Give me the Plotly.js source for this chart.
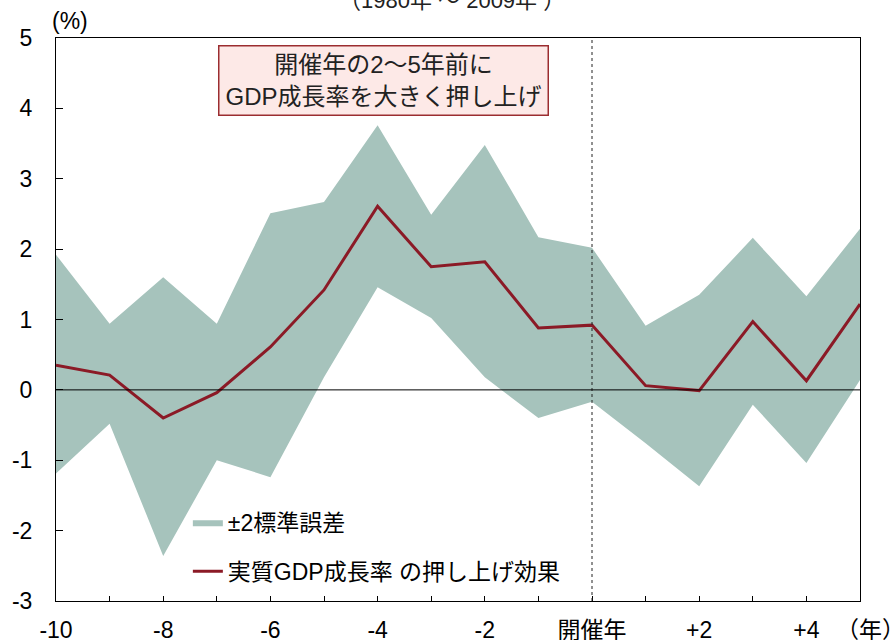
<!DOCTYPE html>
<html>
<head>
<meta charset="utf-8">
<script src="https://cdn.plot.ly/plotly-3.0.1.min.js"></script>
<style>html,body{margin:0;padding:0;background:#fff;}#chart{width:895px;height:640px;}</style>
</head>
<body>
<div id="chart"></div>
<script>
const years = [-10,-9,-8,-7,-6,-5,-4,-3,-2,-1,0,1,2,3,4,5];
const effect = [0.35,0.21,-0.40,-0.04,0.61,1.42,2.61,1.75,1.82,0.88,0.92,0.06,-0.01,0.97,0.13,1.22];
const upperBand = [1.92,0.94,1.60,0.94,2.51,2.67,3.76,2.49,3.48,2.17,2.02,0.91,1.35,2.16,1.33,2.29];
const lowerBand = [-1.19,-0.48,-2.36,-1.00,-1.24,0.18,1.46,1.02,0.18,-0.40,-0.17,-0.76,-1.37,-0.21,-1.04,0.14];
const tickLabels = ["-10","","-8","","-6","","-4","","-2","","開催年","","+2","","+4",""];
const yTicks = [-3,-2,-1,0,1,2,3,4,5];
const yTickLabels = ["-3","-2","-1","0","1","2","3","4","5"];

const FONT = '"Liberation Sans", Arial, "Noto Sans CJK JP", sans-serif';
const bandColor = '#a6c3bc';
const lineColor = '#8b1a26';

const traces = [
  {x: years, y: lowerBand, type: 'scatter', mode: 'lines', line: {width: 0, color: bandColor},
   showlegend: false, hoverinfo: 'skip', legendgroup: 'a'},
  {x: years, y: upperBand, type: 'scatter', mode: 'lines', fill: 'tonexty', fillcolor: bandColor,
   line: {width: 0, color: bandColor}, name: '±2標準誤差', legendgroup: 'a'},
  {x: years, y: effect, type: 'scatter', mode: 'lines', line: {width: 3, color: lineColor},
   name: '実質GDP成長率 の押し上げ効果', legendgroup: 'b'}
];

const layout = {
  width: 895, height: 640,
  margin: {l: 56, r: 35, t: 38, b: 39, pad: 0},
  paper_bgcolor: '#fff', plot_bgcolor: '#fff',
  font: {family: FONT, size: 23, color: '#000'},
  xaxis: {
    range: [-10, 5], tickmode: 'array', tickvals: years, ticktext: tickLabels,
    ticks: 'inside', ticklen: 5, tickcolor: '#000', tickwidth: 1,
    showline: true, linecolor: '#000', linewidth: 1, mirror: true,
    showgrid: false, zeroline: false, ticklabelstandoff: 8,
    tickfont: {family: FONT, size: 23, color: '#000'}
  },
  yaxis: {
    range: [-3, 5], tickmode: 'array', tickvals: yTicks, ticktext: yTickLabels,
    ticks: 'inside', ticklen: 7, tickcolor: '#000', tickwidth: 1,
    showline: true, linecolor: '#000', linewidth: 1, mirror: true,
    showgrid: false, zeroline: false, ticklabelstandoff: 18,
    tickfont: {family: FONT, size: 23, color: '#000'}
  },
  legend: {
    x: 0.164, y: 0.178, xanchor: 'left', yanchor: 'top',
    bgcolor: 'rgba(0,0,0,0)', borderwidth: 0, traceorder: 'grouped',
    font: {family: FONT, size: 23, color: '#000'},
    tracegroupgap: 16, itemwidth: 30
  },
  shapes: [
    {type: 'line', xref: 'x', yref: 'paper', x0: 0, x1: 0, y0: 0, y1: 1,
     line: {color: '#222', width: 1, dash: 'dot'}, layer: 'above'},
    {type: 'line', xref: 'paper', yref: 'y', x0: 0, x1: 1, y0: 0, y1: 0,
     line: {color: '#000', width: 1}, layer: 'above'}
  ],
  annotations: [
    {xref: 'paper', yref: 'paper', x: 0.407, y: 0.924, xanchor: 'center', yanchor: 'middle',
     text: '開催年の2～5年前に<br>GDP成長率を大きく押し上げ', showarrow: false,
     font: {family: FONT, size: 24, color: '#222'}, align: 'center',
     bgcolor: '#fde9e7', bordercolor: '#9b2d30', borderwidth: 1.5, borderpad: 4, width: 320, height: 60},
    {xref: 'paper', yref: 'paper', x: 0.0, y: 1.0, xanchor: 'left', yanchor: 'bottom',
     text: '(%)', showarrow: false, xshift: -6, yshift: 2, font: {family: FONT, size: 23, color: '#000'}},
    {xref: 'paper', yref: 'paper', x: 1.0, y: 0, xanchor: 'left', yanchor: 'top', xshift: -26, yshift: -14,
     text: '（年）', showarrow: false, font: {family: FONT, size: 23, color: '#000'}},
    {xref: 'paper', yref: 'paper', x: 0.493, y: 1.0, xanchor: 'center', yanchor: 'middle', yshift: 38,
     text: '（1980年 ～ 2009年 ）', showarrow: false, font: {family: FONT, size: 22, color: '#222'}}
  ]
};

Plotly.newPlot('chart', traces, layout, {displayModeBar: false, staticPlot: true});
</script>
</body>
</html>
